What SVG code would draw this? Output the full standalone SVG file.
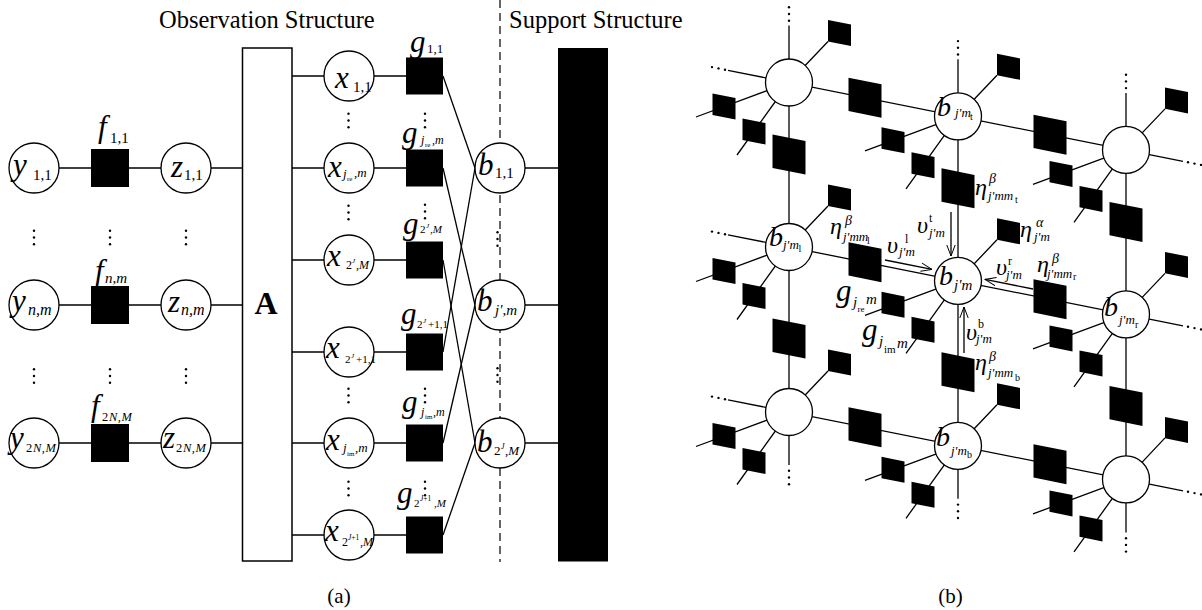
<svg xmlns="http://www.w3.org/2000/svg" xmlns:xlink="http://www.w3.org/1999/xlink" width="1202" height="610" viewBox="0 0 1202 610">
<style>
.e{stroke:#000;stroke-width:1.3;fill:none}
.v{fill:#fff;stroke:#000;stroke-width:1.3}
.f{fill:#000}
.dash{stroke:#000;stroke-width:1.2;stroke-dasharray:8 5;fill:none}
text{font-family:"Liberation Serif","Times New Roman",serif;fill:#000}
.i{font-style:italic}
.u{font-style:normal}
.m{font-size:31px;font-style:italic}
.gr{font-size:24px;font-style:italic}
</style>
<defs>
  <!-- sheared factor squares of the grid, centred on the origin -->
  <path id="sq" d="M-11.5,-13 L11.5,-8.4 L11.5,13 L-11.5,8.4 Z"/>
  <path id="bq" d="M-16.5,-20 L16.5,-13.4 L16.5,20 L-16.5,13.4 Z"/>
  <!-- vertical ellipsis made of three dots -->
  <g id="vd"><circle cx="0" cy="-6.7" r="1.2"/><circle cx="0" cy="0" r="1.2"/><circle cx="0" cy="6.7" r="1.2"/></g>
  <marker id="ah" viewBox="0 0 12 10" refX="11.5" refY="5" markerWidth="12" markerHeight="10" markerUnits="userSpaceOnUse" orient="auto">
    <path d="M0.5,0.8 L11.5,5 L0.5,9.2" fill="none" stroke="#000" stroke-width="1"/>
  </marker>
</defs>

<rect width="1202" height="610" fill="#fff"/>

<!-- ================= (a) ================= -->
<text x="159" y="28" font-size="24.5">Observation Structure</text>
<text x="509" y="28" font-size="24.5">Support Structure</text>
<line class="dash" x1="500" y1="0" x2="500" y2="562"/>

<g id="edges-a">
  <!-- y - f - z - A rows -->
  <line class="e" x1="34" y1="168" x2="242.5" y2="168"/>
  <line class="e" x1="34" y1="305" x2="242.5" y2="305"/>
  <line class="e" x1="34" y1="443" x2="242.5" y2="443"/>
  <!-- A - x - g rows -->
  <line class="e" x1="292" y1="76" x2="424" y2="76"/>
  <line class="e" x1="292" y1="168" x2="424" y2="168"/>
  <line class="e" x1="292" y1="260" x2="424" y2="260"/>
  <line class="e" x1="292" y1="352" x2="424" y2="352"/>
  <line class="e" x1="292" y1="443" x2="424" y2="443"/>
  <line class="e" x1="292" y1="535" x2="424" y2="535"/>
  <!-- g - b links -->
  <line class="e" x1="443" y1="76" x2="475" y2="168"/>
  <line class="e" x1="443" y1="352" x2="475" y2="168"/>
  <line class="e" x1="443" y1="168" x2="475" y2="305"/>
  <line class="e" x1="443" y1="443" x2="475" y2="305"/>
  <line class="e" x1="443" y1="260" x2="475" y2="443"/>
  <line class="e" x1="443" y1="535" x2="475" y2="443"/>
  <!-- b - support bar -->
  <line class="e" x1="500" y1="168" x2="558" y2="168"/>
  <line class="e" x1="500" y1="305" x2="558" y2="305"/>
  <line class="e" x1="500" y1="443" x2="558" y2="443"/>
</g>

<g id="A">
  <rect x="242.5" y="48" width="49.5" height="513" fill="#fff" stroke="#000" stroke-width="1.5"/>
  <text x="266" y="314" font-size="32" font-weight="bold" text-anchor="middle">A</text>
</g>
<g id="support">
  <rect x="558" y="48" width="50" height="513.5" fill="#000"/>
</g>

<!-- observation nodes y -->
<g id="y11"><circle class="v" cx="34" cy="168" r="25"/>
  <text class="m"><tspan x="13" y="175">y</tspan><tspan class="u" x="33" y="180" font-size="15">1,1</tspan></text></g>
<g id="ynm"><circle class="v" cx="34" cy="305" r="25"/>
  <text class="m"><tspan x="12" y="311">y</tspan><tspan x="28" y="315" font-size="16">n,m</tspan></text></g>
<g id="y2NM"><circle class="v" cx="34" cy="443" r="25"/>
  <text class="m"><tspan x="10" y="448">y</tspan><tspan class="u" x="26" y="452" font-size="12.5">2</tspan><tspan x="33" y="452" font-size="12.5" letter-spacing="0.5">N,M</tspan></text></g>

<!-- likelihood factors f -->
<g id="f11"><rect class="f" x="91" y="149" width="38" height="38"/>
  <text class="m"><tspan x="98" y="137">f</tspan><tspan class="u" x="110" y="143" font-size="15">1,1</tspan></text></g>
<g id="fnm"><rect class="f" x="91" y="286" width="38" height="38"/>
  <text class="m"><tspan x="95" y="281">f</tspan><tspan x="105" y="283" font-size="15">n,m</tspan></text></g>
<g id="f2NM"><rect class="f" x="91" y="424" width="38" height="38"/>
  <text class="m"><tspan x="91" y="416">f</tspan><tspan class="u" x="102" y="421" font-size="12.5">2</tspan><tspan x="109" y="421" font-size="12.5" letter-spacing="0.5">N,M</tspan></text></g>

<!-- noiseless outputs z -->
<g id="z11"><circle class="v" cx="186" cy="168" r="25"/>
  <text class="m"><tspan x="171" y="177">z</tspan><tspan class="u" x="184" y="180" font-size="15">1,1</tspan></text></g>
<g id="znm"><circle class="v" cx="186" cy="305" r="25"/>
  <text class="m"><tspan x="168" y="312">z</tspan><tspan x="181" y="315" font-size="16">n,m</tspan></text></g>
<g id="z2NM"><circle class="v" cx="186" cy="443" r="25"/>
  <text class="m"><tspan x="163" y="448">z</tspan><tspan class="u" x="176" y="452" font-size="12.5">2</tspan><tspan x="183" y="452" font-size="12.5" letter-spacing="0.5">N,M</tspan></text></g>

<!-- signal nodes x -->
<g id="x11"><circle class="v" cx="349" cy="76" r="25"/>
  <text class="m"><tspan x="335" y="88">x</tspan><tspan class="u" x="353" y="92" font-size="15">1,1</tspan></text></g>
<g id="xjre"><circle class="v" cx="349" cy="168" r="25"/>
  <text class="m"><tspan x="328" y="177">x</tspan><tspan x="343" y="178" font-size="13">j</tspan><tspan class="u" x="347" y="181" font-size="7">re</tspan><tspan x="354" y="177" font-size="13">,m</tspan></text></g>
<g id="x2JM"><circle class="v" cx="349" cy="260" r="25"/>
  <text class="m"><tspan x="327" y="266">x</tspan><tspan class="u" x="346" y="269" font-size="12">2</tspan><tspan x="352" y="263" font-size="7">J</tspan><tspan x="356" y="269" font-size="12">,M</tspan></text></g>
<g id="x2J11"><circle class="v" cx="349" cy="352" r="25"/>
  <text class="m"><tspan x="326" y="358">x</tspan><tspan class="u" x="345" y="363" font-size="11">2</tspan><tspan x="351" y="358" font-size="7">J</tspan><tspan class="u" x="356" y="363" font-size="11">+1,1</tspan></text></g>
<g id="xjim"><circle class="v" cx="349" cy="443" r="25"/>
  <text class="m"><tspan x="326" y="450">x</tspan><tspan x="343" y="452" font-size="13">j</tspan><tspan class="u" x="347" y="456" font-size="7">im</tspan><tspan x="355" y="452" font-size="13">,m</tspan></text></g>
<g id="x2J1M"><circle class="v" cx="349" cy="535" r="25"/>
  <text class="m"><tspan x="325" y="541">x</tspan><tspan class="u" x="342" y="546" font-size="12">2</tspan><tspan x="348" y="540" font-size="7.5">J</tspan><tspan class="u" font-size="7.5">+1</tspan><tspan x="360" y="546" font-size="12">,M</tspan></text></g>

<!-- prior factors g -->
<g id="g11"><rect class="f" x="406" y="57.5" width="37" height="37"/>
  <text class="m"><tspan x="410" y="52">g</tspan><tspan class="u" x="427" y="53" font-size="13">1,1</tspan></text></g>
<g id="gjre"><rect class="f" x="406" y="149.5" width="37" height="37"/>
  <text class="m"><tspan x="402" y="143">g</tspan><tspan x="421" y="144" font-size="12">j</tspan><tspan class="u" x="425" y="147" font-size="7">re</tspan><tspan x="432" y="144" font-size="12">,m</tspan></text></g>
<g id="g2JM"><rect class="f" x="406" y="241.5" width="37" height="37"/>
  <text class="m"><tspan x="403" y="234">g</tspan><tspan class="u" x="420" y="233" font-size="11">2</tspan><tspan x="426" y="228" font-size="7">J</tspan><tspan x="430" y="233" font-size="11">,M</tspan></text></g>
<g id="g2J11"><rect class="f" x="406" y="333.5" width="37" height="37"/>
  <text class="m"><tspan x="401" y="324">g</tspan><tspan class="u" x="417" y="328" font-size="11">2</tspan><tspan x="423" y="323" font-size="7">J</tspan><tspan class="u" x="428" y="328" font-size="11">+1,1</tspan></text></g>
<g id="gjim"><rect class="f" x="406" y="424.5" width="37" height="37"/>
  <text class="m"><tspan x="402" y="412">g</tspan><tspan x="421" y="416" font-size="12">j</tspan><tspan class="u" x="425" y="419" font-size="7">im</tspan><tspan x="433" y="416" font-size="12">,m</tspan></text></g>
<g id="g2J1M"><rect class="f" x="406" y="516.5" width="37" height="37"/>
  <text class="m"><tspan x="397" y="503">g</tspan><tspan class="u" x="414" y="507" font-size="11">2</tspan><tspan x="420" y="501" font-size="7.5">J</tspan><tspan class="u" font-size="7.5">+1</tspan><tspan x="434" y="507" font-size="11">,M</tspan></text></g>

<!-- support nodes b -->
<g id="b11"><circle class="v" cx="500" cy="168" r="25"/>
  <text class="m"><tspan x="478" y="175">b</tspan><tspan class="u" x="495" y="178" font-size="15">1,1</tspan></text></g>
<g id="bjm"><circle class="v" cx="500" cy="305" r="25"/>
  <text class="m"><tspan x="477" y="311">b</tspan><tspan x="495" y="315" font-size="15">j',m</tspan></text></g>
<g id="b2JM"><circle class="v" cx="500" cy="443" r="25"/>
  <text class="m"><tspan x="477" y="452">b</tspan><tspan class="u" x="494" y="455" font-size="13">2</tspan><tspan x="501" y="449" font-size="8">J</tspan><tspan x="505" y="455" font-size="13">,M</tspan></text></g>

<!-- ellipses between rows -->
<g id="dots-a">
  <use xlink:href="#vd" x="34" y="237.5"/><use xlink:href="#vd" x="110" y="237.5"/><use xlink:href="#vd" x="186" y="237.5"/>
  <use xlink:href="#vd" x="34" y="376"/><use xlink:href="#vd" x="110" y="376"/><use xlink:href="#vd" x="186" y="376"/>
  <use xlink:href="#vd" x="348.5" y="120.5"/><use xlink:href="#vd" x="348.5" y="212.5"/>
  <use xlink:href="#vd" x="348.5" y="395.5"/><use xlink:href="#vd" x="348.5" y="488.5"/>
  <use xlink:href="#vd" x="425" y="120.5"/><use xlink:href="#vd" x="425" y="211.5"/>
  <use xlink:href="#vd" x="425" y="395.5"/><use xlink:href="#vd" x="425" y="488.5"/>
  <use xlink:href="#vd" x="497.5" y="239"/><use xlink:href="#vd" x="497.5" y="375"/>
</g>

<text x="339" y="603" font-size="21" text-anchor="middle">(a)</text>

<!-- ================= (b) ================= -->
<g id="edges-b">
  <!-- grid rows (slanted) -->
  <line class="e" x1="728" y1="70.3" x2="1183" y2="161.3"/>
  <line class="e" x1="728" y1="234.8" x2="1183" y2="325.8"/>
  <line class="e" x1="728" y1="399.8" x2="1183" y2="490.8"/>
  <!-- grid columns -->
  <line class="e" x1="789" y1="25.5" x2="789" y2="465"/>
  <line class="e" x1="958" y1="59.3" x2="958" y2="498.8"/>
  <line class="e" x1="1126" y1="92.9" x2="1126" y2="532.4"/>
  <!-- node to local factors -->
  <path class="e" d="M789,82.5 L828,41.5 M789,82.5 L696,117 M789,82.5 L737,155"/>
  <path class="e" d="M958,116.3 L997,75.3 M958,116.3 L865,150.8 M958,116.3 L906,188.8"/>
  <path class="e" d="M1126,149.9 L1165,108.9 M1126,149.9 L1033,184.4 M1126,149.9 L1074,222.4"/>
  <path class="e" d="M789,247 L828,206 M789,247 L696,281.5 M789,247 L737,319.5"/>
  <path class="e" d="M958,280.8 L997,239.8 M958,280.8 L865,315.3 M958,280.8 L906,353.3"/>
  <path class="e" d="M1126,314.4 L1165,273.4 M1126,314.4 L1033,348.9 M1126,314.4 L1074,386.9"/>
  <path class="e" d="M789,412 L828,371 M789,412 L696,446.5 M789,412 L737,484.5"/>
  <path class="e" d="M958,445.8 L997,404.8 M958,445.8 L865,480.3 M958,445.8 L906,518.3"/>
  <path class="e" d="M1126,479.4 L1165,437.9 M1126,479.4 L1033,513.9 M1126,479.4 L1074,551.9"/>
  <!-- messages into the centre node -->
  <line class="e" stroke-width="1.1" x1="951" y1="212" x2="951" y2="256" marker-end="url(#ah)"/>
  <line class="e" stroke-width="1.1" x1="964" y1="353" x2="964" y2="307" marker-end="url(#ah)"/>
  <line class="e" stroke-width="1.1" x1="885" y1="260" x2="932" y2="269.4" marker-end="url(#ah)"/>
  <line class="e" stroke-width="1.1" x1="1033" y1="289" x2="985" y2="279.4" marker-end="url(#ah)"/>
</g>

<!-- ellipses at the open ends of the grid -->
<g id="dots-b">
  <circle cx="712" cy="67.1" r="1.2"/><circle cx="718.5" cy="68.4" r="1.2"/><circle cx="725" cy="69.7" r="1.2"/>
  <circle cx="712" cy="231.6" r="1.2"/><circle cx="718.5" cy="232.9" r="1.2"/><circle cx="725" cy="234.2" r="1.2"/>
  <circle cx="712" cy="396.6" r="1.2"/><circle cx="718.5" cy="397.9" r="1.2"/><circle cx="725" cy="399.2" r="1.2"/>
  <circle cx="1188" cy="162.3" r="1.2"/><circle cx="1194.5" cy="163.6" r="1.2"/><circle cx="1201" cy="164.9" r="1.2"/>
  <circle cx="1188" cy="326.8" r="1.2"/><circle cx="1194.5" cy="328.1" r="1.2"/><circle cx="1201" cy="329.4" r="1.2"/>
  <circle cx="1188" cy="491.8" r="1.2"/><circle cx="1194.5" cy="493.1" r="1.2"/><circle cx="1201" cy="494.4" r="1.2"/>
  <use xlink:href="#vd" x="789" y="14"/><use xlink:href="#vd" x="789" y="477.5"/>
  <use xlink:href="#vd" x="958" y="47.8"/><use xlink:href="#vd" x="958" y="511.3"/>
  <use xlink:href="#vd" x="1126" y="81.4"/><use xlink:href="#vd" x="1126" y="544.9"/>
</g>

<!-- pairwise factors between neighbouring support nodes -->
<g id="pair-factors" class="f">
  <use xlink:href="#bq" x="865" y="97.7"/><use xlink:href="#bq" x="1050" y="134.7"/>
  <use xlink:href="#bq" x="865" y="262.2"/><use xlink:href="#bq" x="1050" y="299.2"/>
  <use xlink:href="#bq" x="865" y="427.2"/><use xlink:href="#bq" x="1050" y="464.2"/>
  <use xlink:href="#bq" x="789" y="154.5"/><use xlink:href="#bq" x="789" y="338.5"/>
  <use xlink:href="#bq" x="958" y="188.3"/><use xlink:href="#bq" x="958" y="372.3"/>
  <use xlink:href="#bq" x="1126" y="221.9"/><use xlink:href="#bq" x="1126" y="405.9"/>
</g>

<!-- local factors of every support node -->
<g id="local-factors" class="f">
  <use xlink:href="#sq" x="839.5" y="33"/><use xlink:href="#sq" x="724" y="106.5"/><use xlink:href="#sq" x="754" y="131.5"/>
  <use xlink:href="#sq" x="1008.5" y="66.8"/><use xlink:href="#sq" x="893" y="140.3"/><use xlink:href="#sq" x="923" y="165.3"/>
  <use xlink:href="#sq" x="1176.5" y="100.4"/><use xlink:href="#sq" x="1061" y="173.9"/><use xlink:href="#sq" x="1091" y="198.9"/>
  <use xlink:href="#sq" x="839.5" y="197.5"/><use xlink:href="#sq" x="724" y="271"/><use xlink:href="#sq" x="754" y="296"/>
  <use xlink:href="#sq" x="1008.5" y="231.3"/><use xlink:href="#sq" x="893" y="304.8"/><use xlink:href="#sq" x="923" y="329.8"/>
  <use xlink:href="#sq" x="1176.5" y="264.9"/><use xlink:href="#sq" x="1061" y="338.4"/><use xlink:href="#sq" x="1091" y="363.4"/>
  <use xlink:href="#sq" x="839.5" y="362.5"/><use xlink:href="#sq" x="724" y="436"/><use xlink:href="#sq" x="754" y="461"/>
  <use xlink:href="#sq" x="1008.5" y="396.3"/><use xlink:href="#sq" x="893" y="469.8"/><use xlink:href="#sq" x="923" y="494.8"/>
  <use xlink:href="#sq" x="1176.5" y="429.9"/><use xlink:href="#sq" x="1061" y="503.4"/><use xlink:href="#sq" x="1091" y="528.4"/>
</g>

<!-- support grid nodes -->
<g id="n00"><circle class="v" cx="789" cy="82.5" r="23.5"/></g>
<g id="n-top"><circle class="v" cx="958" cy="116.3" r="23.5"/>
  <text class="i"><tspan x="937" y="116" font-size="28">b</tspan><tspan x="955" y="117" font-size="13">j'm</tspan><tspan class="u" x="970" y="120" font-size="10">t</tspan></text></g>
<g id="n02"><circle class="v" cx="1126" cy="149.9" r="23.5"/></g>
<g id="n-left"><circle class="v" cx="789" cy="247" r="23.5"/>
  <text class="i"><tspan x="769" y="246" font-size="28">b</tspan><tspan x="783" y="249" font-size="13">j'm</tspan><tspan class="u" x="798.5" y="252" font-size="10">l</tspan></text></g>
<g id="n-centre"><circle class="v" cx="958" cy="280.8" r="23.5"/>
  <text class="i"><tspan x="939" y="285" font-size="28">b</tspan><tspan x="954" y="290" font-size="15">j'm</tspan></text></g>
<g id="n-right"><circle class="v" cx="1126" cy="314.4" r="23.5"/>
  <text class="i"><tspan x="1104" y="316" font-size="28">b</tspan><tspan x="1119" y="324" font-size="13">j'm</tspan><tspan class="u" x="1135" y="328" font-size="10">r</tspan></text></g>
<g id="n20"><circle class="v" cx="789" cy="412" r="23.5"/></g>
<g id="n-bottom"><circle class="v" cx="958" cy="445.8" r="23.5"/>
  <text class="i"><tspan x="936" y="446" font-size="28">b</tspan><tspan x="951" y="455" font-size="13">j'm</tspan><tspan class="u" x="967" y="458" font-size="10">b</tspan></text></g>
<g id="n22"><circle class="v" cx="1126" cy="479.4" r="23.5"/></g>

<!-- factor and message labels around the centre node -->
<g id="labels-b">
  <text class="gr"><tspan x="975" y="195">η</tspan><tspan x="989" y="183" font-size="14">β</tspan><tspan x="988" y="200" font-size="13">j'mm</tspan><tspan class="u" x="1015" y="203" font-size="10">t</tspan></text>
  <text class="gr"><tspan x="1020" y="237">η</tspan><tspan x="1036" y="227" font-size="14">α</tspan><tspan x="1034" y="241" font-size="13">j'm</tspan></text>
  <text class="gr"><tspan x="917" y="233">υ</tspan><tspan class="u" x="929" y="222" font-size="12">t</tspan><tspan x="929" y="237" font-size="13">j'm</tspan></text>
  <text class="gr"><tspan x="887" y="253">υ</tspan><tspan class="u" x="905" y="243" font-size="12">l</tspan><tspan x="899" y="256" font-size="13">j'm</tspan></text>
  <text class="gr"><tspan x="996" y="275">υ</tspan><tspan class="u" x="1008" y="265" font-size="12">r</tspan><tspan x="1006" y="279" font-size="13">j'm</tspan></text>
  <text class="gr"><tspan x="1037" y="272">η</tspan><tspan x="1052" y="263" font-size="14">β</tspan><tspan x="1047" y="278" font-size="13">j'mm</tspan><tspan class="u" x="1073" y="280" font-size="10">r</tspan></text>
  <text class="gr"><tspan x="830" y="234">η</tspan><tspan x="845" y="225" font-size="14">β</tspan><tspan x="843" y="241" font-size="13">j'mm</tspan><tspan class="u" x="867" y="244" font-size="10">l</tspan></text>
  <text class="m" font-size="29"><tspan x="836" y="301">g</tspan><tspan x="853" y="307" font-size="15">j</tspan><tspan class="u" x="857.5" y="311.5" font-size="9">re</tspan><tspan x="866" y="304" font-size="15">m</tspan></text>
  <text class="m" font-size="28"><tspan x="862" y="340">g</tspan><tspan x="879" y="346" font-size="15">j</tspan><tspan class="u" x="884" y="353" font-size="11">im</tspan><tspan x="897" y="348" font-size="15">m</tspan></text>
  <text class="gr"><tspan x="966" y="340">υ</tspan><tspan class="u" x="978" y="328" font-size="12">b</tspan><tspan x="976" y="343" font-size="13">j'm</tspan></text>
  <text class="gr"><tspan x="975" y="370">η</tspan><tspan x="989" y="361" font-size="14">β</tspan><tspan x="988" y="377" font-size="13">j'mm</tspan><tspan class="u" x="1015" y="381" font-size="10">b</tspan></text>
</g>

<text x="950.5" y="603" font-size="21" text-anchor="middle">(b)</text>
</svg>
